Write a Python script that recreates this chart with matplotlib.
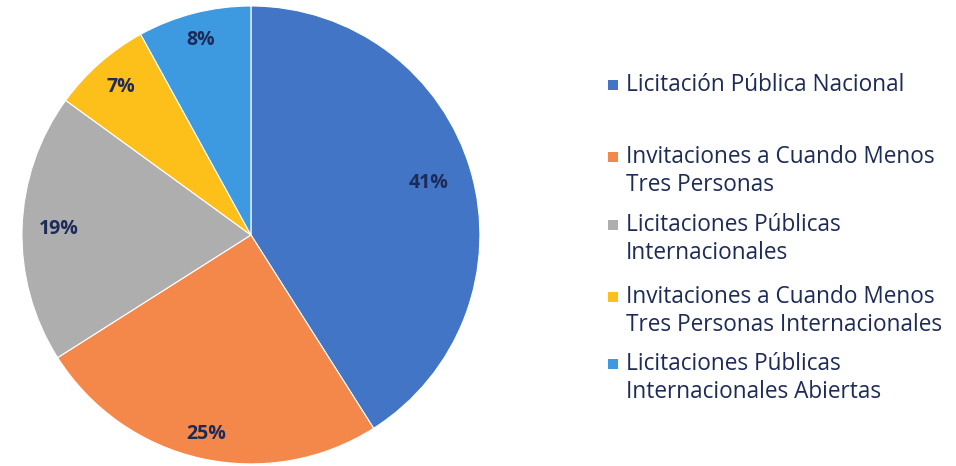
import matplotlib.pyplot as plt
from matplotlib.patches import Rectangle
import numpy as np

categories = [
    "Licitación Pública Nacional",
    "Invitaciones a Cuando Menos\nTres Personas",
    "Licitaciones Públicas\nInternacionales",
    "Invitaciones a Cuando Menos\nTres Personas Internacionales",
    "Licitaciones Públicas\nInternacionales Abiertas",
]
shares = [41, 25, 19, 7, 8]
colors = ["#4375c6", "#f4884a", "#aeaeae", "#fdbf1a", "#3e9ae0"]
label_dist = [0.81, 0.89, 0.84, 0.86, 0.88]

text_color = "#1d2b58"
plt.rcParams["font.family"] = ["Open Sans", "DejaVu Sans"]

fig = plt.figure(figsize=(9.56, 4.66), dpi=100)
ax = fig.add_axes([0.023, 0.0043, 0.479, 0.983])

wedges, _ = ax.pie(shares, colors=colors, startangle=90, counterclock=False,
                   radius=1, wedgeprops=dict(edgecolor="white", linewidth=0.8))

# percentage labels at slice mid-angles
for w, s, d in zip(wedges, shares, label_dist):
    mid = np.deg2rad((w.theta1 + w.theta2) / 2)
    ax.text(d * np.cos(mid), d * np.sin(mid), f"{s}%", ha="center", va="center",
            fontsize=14, fontweight="bold", color=text_color)

ax.set_xlim(-1.0, 1.0)
ax.set_ylim(-1.0, 1.0)
ax.set_aspect("equal")
ax.axis("off")

# legend drawn by hand to match the spacing of the original
W, H = 956, 466
first_line_y = [83, 155, 223, 295, 362]
for cat, col, y in zip(categories, colors, first_line_y):
    fig.patches.append(Rectangle((608 / W, 1 - (y + 7) / H), 10 / W, 10 / H,
                                 transform=fig.transFigure, facecolor=col,
                                 edgecolor="none"))
    fig.text(626 / W, 1 - (y - 10) / H, cat, ha="left", va="top",
             fontsize=16.3, color=text_color, linespacing=1.22)

fig.savefig("out.png", dpi=100, facecolor="white")
